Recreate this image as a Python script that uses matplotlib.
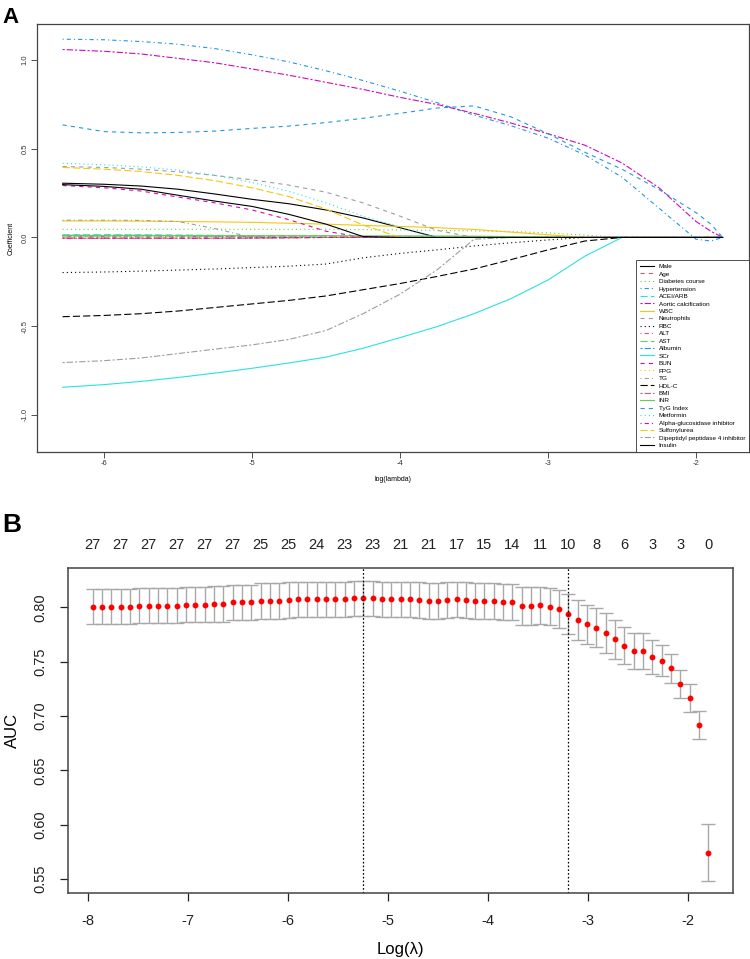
import numpy as np
import matplotlib
matplotlib.use("Agg")
import matplotlib.pyplot as plt

plt.rcParams['font.family'] = ['Liberation Sans', 'DejaVu Sans']
plt.rcParams['lines.scale_dashes'] = False
plt.rcParams['axes.unicode_minus'] = False

# ---------------- Panel A: coefficient paths ----------------
loglam_a = [-6.28, -6.0, -5.75, -5.5, -5.25, -5.0, -4.75, -4.5, -4.25, -4.0,
            -3.75, -3.5, -3.25, -3.0, -2.75, -2.5, -2.25, -2.0, -1.9, -1.82]

male = [0.306, 0.300, 0.290, 0.272, 0.245, 0.215, 0.190, 0.155, 0.110, 0.055, 0, 0, 0, 0, 0, 0, 0, 0, 0, 0]
age = [-0.003, -0.003, -0.003, -0.003, -0.003, -0.003, -0.002, 0, 0, 0, 0, 0, 0, 0, 0, 0, 0, 0, 0, 0]
diabetes_course = [0.046, 0.046, 0.046, 0.046, 0.046, 0.046, 0.046, 0.046, 0.044, 0.042, 0.040, 0.037, 0.033, 0.026, 0.013, 0, 0, 0, 0, 0]
hypertension = [1.118, 1.115, 1.105, 1.090, 1.065, 1.030, 0.990, 0.940, 0.885, 0.825, 0.760, 0.690, 0.630, 0.560, 0.465, 0.340, 0.165, -0.010, -0.020, 0.0]
acei_arb = [0.015, 0.015, 0.015, 0.014, 0.012, 0.010, 0.005, 0, 0, 0, 0, 0, 0, 0, 0, 0, 0, 0, 0, 0]
aortic_calc = [1.060, 1.050, 1.035, 1.010, 0.985, 0.950, 0.915, 0.875, 0.835, 0.790, 0.750, 0.700, 0.645, 0.585, 0.520, 0.420, 0.280, 0.090, 0.035, 0.0]
wbc = [0.093, 0.093, 0.092, 0.090, 0.088, 0.085, 0.080, 0.075, 0.068, 0.062, 0.055, 0.045, 0.030, 0.015, 0, 0, 0, 0, 0, 0]
neutrophils = [0.400, 0.395, 0.385, 0.370, 0.350, 0.325, 0.295, 0.255, 0.195, 0.120, 0.040, 0, 0, 0, 0, 0, 0, 0, 0, 0]
rbc = [-0.198, -0.195, -0.190, -0.184, -0.178, -0.170, -0.162, -0.150, -0.115, -0.090, -0.070, -0.048, -0.030, -0.014, 0, 0, 0, 0, 0, 0]
alt = [0.005, 0.005, 0.005, 0.005, 0.005, 0.004, 0, 0, 0, 0, 0, 0, 0, 0, 0, 0, 0, 0, 0, 0]
ast = [0.008, 0.008, 0.008, 0.008, 0.008, 0.008, 0.008, 0.007, 0.005, 0, 0, 0, 0, 0, 0, 0, 0, 0, 0, 0]
albumin = [0.012, 0.012, 0.012, 0.010, 0.007, 0.004, 0, 0, 0, 0, 0, 0, 0, 0, 0, 0, 0, 0, 0, 0]
scr = [-0.845, -0.830, -0.812, -0.790, -0.765, -0.738, -0.708, -0.675, -0.625, -0.565, -0.503, -0.430, -0.345, -0.240, -0.105, 0, 0, 0, 0, 0]
bun = [0.293, 0.280, 0.262, 0.228, 0.195, 0.155, 0.100, 0.035, 0, 0, 0, 0, 0, 0, 0, 0, 0, 0, 0, 0]
fpg = [0.004, 0.004, 0.004, 0.004, 0.004, 0.004, 0.004, 0.003, 0.002, 0, 0, 0, 0, 0, 0, 0, 0, 0, 0, 0]
tg = [0.097, 0.097, 0.096, 0.090, 0.050, 0, 0, 0, 0, 0, 0, 0, 0, 0, 0, 0, 0, 0, 0, 0]
hdl_c = [-0.447, -0.440, -0.430, -0.415, -0.395, -0.375, -0.355, -0.330, -0.295, -0.260, -0.220, -0.178, -0.125, -0.070, -0.020, 0, 0, 0, 0, 0]
bmi = [-0.005, -0.005, -0.005, -0.005, -0.005, -0.004, -0.003, 0, 0, 0, 0, 0, 0, 0, 0, 0, 0, 0, 0, 0]
inr = [0.010, 0.010, 0.010, 0.010, 0.010, 0.010, 0.010, 0.010, 0.009, 0.009, 0.008, 0.007, 0.005, 0.002, 0, 0, 0, 0, 0, 0]
tyg_index = [0.635, 0.597, 0.590, 0.592, 0.600, 0.615, 0.628, 0.648, 0.672, 0.700, 0.730, 0.742, 0.680, 0.585, 0.480, 0.385, 0.270, 0.140, 0.075, 0.0]
metformin = [0.418, 0.410, 0.398, 0.380, 0.350, 0.310, 0.260, 0.195, 0.120, 0.060, 0, 0, 0, 0, 0, 0, 0, 0, 0, 0]
alpha_gluc = [-0.004, -0.004, -0.004, -0.004, -0.004, -0.003, 0, 0, 0, 0, 0, 0, 0, 0, 0, 0, 0, 0, 0, 0]
sulfonylurea = [0.395, 0.385, 0.372, 0.350, 0.320, 0.280, 0.230, 0.160, 0.070, 0, 0, 0, 0, 0, 0, 0, 0, 0, 0, 0]
dpp4 = [-0.706, -0.695, -0.680, -0.655, -0.630, -0.606, -0.575, -0.525, -0.430, -0.320, -0.183, -0.010, 0, 0, 0, 0, 0, 0, 0, 0]
insulin = [0.298, 0.288, 0.272, 0.238, 0.205, 0.175, 0.130, 0.075, 0.005, 0, 0, 0, 0, 0, 0, 0, 0, 0, 0, 0]

var_names = ["Male", "Age", "Diabetes course", "Hypertension", "ACEI/ARB",
             "Aortic calcification", "WBC", "Neutrophils", "RBC", "ALT", "AST",
             "Albumin", "SCr", "BUN", "FPG", "TG", "HDL-C", "BMI", "INR",
             "TyG Index", "Metformin", "Alpha-glucosidase inhibitor",
             "Sulfonylurea", "Dipeptidyl peptidase 4 inhibitor", "Insulin"]
paths = [male, age, diabetes_course, hypertension, acei_arb, aortic_calc, wbc,
         neutrophils, rbc, alt, ast, albumin, scr, bun, fpg, tg, hdl_c, bmi,
         inr, tyg_index, metformin, alpha_gluc, sulfonylurea, dpp4, insulin]

# R default palette and line types (cycled like matplot)
r_cols = ["black", "#DF536B", "#61D04F", "#2297E6", "#28E2E5", "#CD0BBC", "#F5C710", "#9E9E9E"]
r_ltys = ["-", (0, (3, 3)), (0, (0.8, 2.2)), (0, (0.8, 2.2, 3, 2.2)),
          (0, (5.2, 2.2)), (0, (1.5, 1.5, 4.5, 1.5))]

# ---------------- Panel B: CV AUC ----------------
loglam_b = np.linspace(-7.956, -1.80, 67)
auc = [0.8006, 0.8006, 0.8006, 0.8006, 0.8006, 0.8015, 0.8015, 0.8015, 0.8015, 0.8015,
       0.8024, 0.8024, 0.8024, 0.8030, 0.8030, 0.8046, 0.8046, 0.8046, 0.8058, 0.8058,
       0.8058, 0.8067, 0.8073, 0.8073, 0.8073, 0.8073, 0.8073, 0.8073, 0.8083, 0.8083,
       0.8083, 0.8073, 0.8073, 0.8073, 0.8073, 0.8067, 0.8058, 0.8058, 0.8067, 0.8073,
       0.8067, 0.8058, 0.8058, 0.8058, 0.8049, 0.8049, 0.8015, 0.8015, 0.8018, 0.8006,
       0.7982, 0.7939, 0.7884, 0.7844, 0.7813, 0.7764, 0.7706, 0.7648, 0.7602, 0.7596,
       0.7543, 0.7510, 0.7439, 0.7292, 0.7169, 0.6918, 0.5745]
auc_se = [0.0161] * 10 + [0.0163] * 36 + [0.0173] * 5 + [0.0181] * 6 + \
         [0.0172, 0.0165, 0.0165, 0.0158, 0.0146, 0.0135, 0.0130, 0.0127, 0.0132, 0.0260]
nzero = [27, 27, 27, 27, 27, 27, 25, 25, 24, 23, 23, 21, 21, 17, 15, 14, 11, 10, 8, 6, 3, 3, 0]
idx_min, idx_1se = 29, 51

fig = plt.figure(figsize=(7.5, 9.59), dpi=100)

# ---- A ----
axA = fig.add_axes([0.0493, 0.5287, 0.9494, 0.4463])
for i, (name, p) in enumerate(zip(var_names, paths)):
    axA.plot(loglam_a, p, color=r_cols[i % 8], linestyle=r_ltys[i % 6],
             linewidth=0.8, label=name)
axA.set_xlim(-6.453, -1.642)
axA.set_ylim(-1.21, 1.204)
axA.set_xticks([-6, -5, -4, -3, -2])
axA.set_yticks([-1.0, -0.5, 0.0, 0.5, 1.0])
axA.set_yticklabels(["-1.0", "-0.5", "0.0", "0.5", "1.0"], rotation=90, va="center")
axA.tick_params(labelsize=5.5, length=4, width=0.6, pad=2, colors="#333333")
axA.set_xlabel("log(lambda)", fontsize=5, labelpad=6)
axA.set_ylabel("Coefficient", fontsize=5, labelpad=5)
for s in axA.spines.values():
    s.set_color("#444444")
    s.set_linewidth(0.9)
leg = axA.legend(loc="lower right", bbox_to_anchor=(1.0, 0.0), borderaxespad=0,
                 fontsize=4.6, labelspacing=0.31, handlelength=2.2, handletextpad=0.7,
                 borderpad=0.6, fancybox=False, framealpha=1, edgecolor="#333333")
leg.get_frame().set_linewidth(0.6)
fig.text(0.003, 0.993, "A", fontsize=16, fontweight="bold", va="top", ha="left")

# ---- B ----
axB = fig.add_axes([0.0911, 0.0685, 0.8867, 0.3389])
axB.errorbar(loglam_b, auc, yerr=auc_se, fmt="none", ecolor="#A9A9A9",
             elinewidth=1.0, capsize=4.7, capthick=1.0)
axB.plot(loglam_b, auc, "o", color="red", markersize=3.2)
axB.axvline(loglam_b[idx_min], color="black", linestyle=(0, (1.2, 1.5)), linewidth=0.9)
axB.axvline(loglam_b[idx_1se], color="black", linestyle=(0, (1.2, 1.5)), linewidth=0.9)
axB.set_xlim(-8.2, -1.55)
axB.set_ylim(0.537, 0.8359)
axB.set_xticks([-8, -7, -6, -5, -4, -3, -2])
axB.set_yticks([0.55, 0.60, 0.65, 0.70, 0.75, 0.80])
axB.set_yticklabels(["0.55", "0.60", "0.65", "0.70", "0.75", "0.80"], rotation=90, va="center")
axB.tick_params(labelsize=10.5, length=6, width=0.9, pad=9, colors="#222222")
axB.set_xlabel("Log(λ)", fontsize=12, labelpad=10)
axB.set_ylabel("AUC", fontsize=12, labelpad=10)
for s in axB.spines.values():
    s.set_color("#444444")
    s.set_linewidth(1.1)

axT = axB.twiny()
axT.set_xlim(axB.get_xlim())
axT.set_xticks(loglam_b[::3])
axT.set_xticklabels([str(n) for n in nzero])
axT.tick_params(length=0, labelsize=10.5, pad=12, colors="#222222")
for s in axT.spines.values():
    s.set_visible(False)

fig.text(0.003, 0.465, "B", fontsize=19, fontweight="bold", va="top", ha="left")

fig.savefig("out.png", dpi=100)
